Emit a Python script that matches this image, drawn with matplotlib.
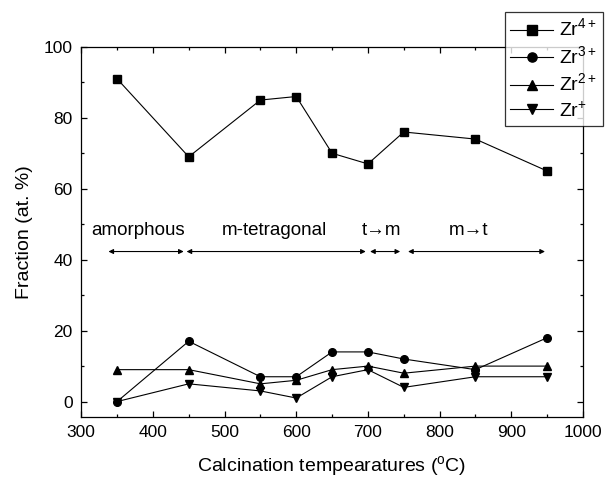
import matplotlib
matplotlib.use("Agg")
import matplotlib.pyplot as plt
from matplotlib.ticker import MultipleLocator

plt.rcParams['font.family'] = ['Liberation Sans', 'DejaVu Sans']

# Datos
temperaturas = [350, 450, 550, 600, 650, 700, 750, 850, 950]
zr4 = [91, 69, 85, 86, 70, 67, 76, 74, 65]
zr3 = [0, 17, 7, 7, 14, 14, 12, 9, 18]
zr2 = [9, 9, 5, 6, 9, 10, 8, 10, 10]
zr1 = [0, 5, 3, 1, 7, 9, 4, 7, 7]
etiquetas = ['Zr$^{\\mathregular{4+}}$', 'Zr$^{\\mathregular{3+}}$',
             'Zr$^{\\mathregular{2+}}$', 'Zr$^{\\mathregular{+}}$']

# Regiones de fase (inicio, fin, texto, x del texto)
fases_inicio = [338, 447, 703, 756]
fases_fin = [443, 697, 745, 947]
fases_texto = ['amorphous', 'm-tetragonal', 't\u2192m', 'm\u2192t']
fases_xtexto = [379, 570, 719, 840]

fig = plt.figure(figsize=(6.06, 4.83), dpi=100)
ax = fig.add_axes([0.134, 0.137, 0.828, 0.766])

marcadores = ['s', 'o', '^', 'v']
lineas = []
for serie, m, lab in zip([zr4, zr3, zr2, zr1], marcadores, etiquetas):
    l, = ax.plot(temperaturas, serie, color='black', lw=0.8, marker=m,
                 markersize=5.5, label=lab)
    lineas.append(l)

# Flechas de las fases
for x0, x1, txt, xt in zip(fases_inicio, fases_fin, fases_texto, fases_xtexto):
    ax.annotate('', xy=(x0, 42.3), xytext=(x1, 42.3),
                arrowprops=dict(arrowstyle='<|-|>', color='black', lw=0.8,
                                mutation_scale=7, shrinkA=0, shrinkB=0))
    ax.text(xt, 48.2, txt, ha='center', va='center', fontsize=13.5)

ax.set_xlim(300, 1000)
ax.set_ylim(-4.3, 100)
ax.xaxis.set_major_locator(MultipleLocator(100))
ax.xaxis.set_minor_locator(MultipleLocator(50))
ax.yaxis.set_major_locator(MultipleLocator(20))
ax.yaxis.set_minor_locator(MultipleLocator(10))
ax.tick_params(which='both', direction='in', top=True, right=True,
               labelsize=12.5, width=0.9)
ax.tick_params(which='major', length=4.5, pad=6)
ax.tick_params(which='minor', length=2.5)
for s in ax.spines.values():
    s.set_linewidth(0.9)
ax.set_xlabel('Calcination tempearatures ($^{\\mathregular{o}}$C)',
              fontsize=14, labelpad=10)
ax.set_ylabel('Fraction (at. %)', fontsize=14, labelpad=8)

leg = fig.legend(handles=lineas, loc='upper right',
                 bbox_to_anchor=(0.995, 0.975), borderaxespad=0,
                 fontsize=14, frameon=True, fancybox=False,
                 edgecolor='black', handlelength=2.2, borderpad=0.3,
                 labelspacing=0.25, handletextpad=0.3, markerscale=1.2)
leg.get_frame().set_linewidth(0.9)
leg.set_zorder(5)

fig.savefig('out.png', dpi=100)
